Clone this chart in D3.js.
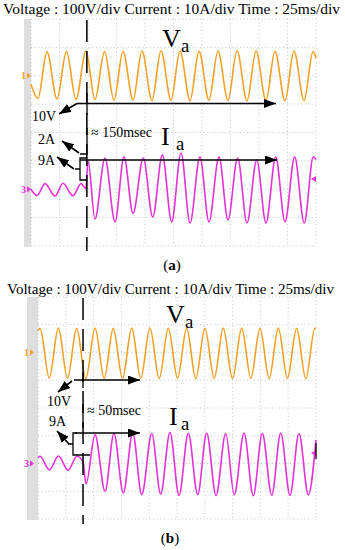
<!DOCTYPE html>
<html>
<head>
<meta charset="utf-8">
<script src="https://cdn.jsdelivr.net/npm/d3@7"></script>
<style>
  body { margin: 0; background: #fff; }
</style>
</head>
<body>
<script>
// scope settings
const timeDiv = 25;     // ms per division
const voltDiv = 100;    // V per division
const currDiv = 10;     // A per division
const eventTime = { a: 49, b: 40.5 };   // ms, fault instant (dashed line)

// phase voltage, panel (a): [ms, V]  (extrema)
const voltageA = [
  [0, -30], [6.1, -80], [14.0, 84], [22.8, -82], [31.1, 86], [39.5, -83], [48.2, 87],
  [56.1, -84], [64.5, 85], [72.8, -86], [80.7, 86], [89.5, -85], [97.4, 87], [106.1, -87],
  [114.0, 88], [122.8, -86], [130.7, 87], [139.5, -88], [147.4, 86], [156.1, -86], [164.0, 87],
  [172.8, -87], [180.7, 88], [189.5, -88], [197.4, 87], [206.1, -87], [214.0, 86], [222.8, -88],
  [230.7, 87], [239.5, -87], [247.4, 85], [250, 62]
];
// phase current, panel (a): [ms, A]
const currentA = [
  [0, 0], [5.3, -2.2], [12.3, 2.0], [21.1, -2.4], [28.1, 2.1], [36.8, -2.3], [43.9, 2.0],
  [48.2, 0.2], [50.0, 10.3], [56.1, -10.5], [64.9, 11.0], [73.7, -11.5], [81.6, 11.4],
  [89.5, -8.5], [98.5, 11.0], [106.8, -9.8], [115.2, 12.1], [123.4, -11.5], [131.6, 12.8],
  [139.5, -11.9], [148.2, 11.4], [156.1, -11.5], [164.9, 11.4], [172.8, -10.8], [181.3, 11.0],
  [189.5, -11.9], [198.0, 10.3], [206.1, -11.9], [214.7, 11.4], [222.8, -11.5], [231.3, 11.4],
  [239.7, -11.9], [247.6, 11.4], [250, 10.5]
];
// phase voltage, panel (b)
const voltageB = [
  [0, 78], [1.8, 87], [10.1, -92], [18.3, 88], [26.5, -93], [34.8, 87], [43.0, -94],
  [51.3, 88], [59.5, -93], [67.7, 87], [76.0, -94], [84.3, 88], [92.4, -93], [100.7, 88],
  [109.0, -94], [117.2, 87], [125.5, -93], [133.7, 88], [141.9, -94], [150.1, 87], [158.5, -93],
  [166.6, 88], [174.9, -94], [183.2, 88], [191.4, -93], [199.6, 87], [207.9, -94], [216.1, 88],
  [224.3, -93], [232.6, 87], [240.8, -94], [249.1, 88], [250, 86]
];
// phase current, panel (b)
const currentB = [
  [0, 2.0], [1.8, 2.6], [10.3, -2.3], [18.4, 2.7], [27.0, -2.4], [35.1, 2.6], [40.5, 0.5],
  [43.2, -7.4], [51.3, 10.3], [60.3, -10.0], [68.3, 10.8], [76.7, -10.6], [85.2, 11.0],
  [93.3, -11.2], [102.3, 10.8], [110.3, -11.0], [118.7, 11.2], [126.8, -11.5], [135.2, 10.9],
  [143.6, -11.2], [151.7, 11.0], [160.1, -11.6], [168.8, 10.8], [176.5, -11.3], [185.3, 11.0],
  [193.6, -11.6], [201.7, 10.9], [210.2, -11.4], [218.3, 11.0], [226.6, -11.5], [234.7, 10.8],
  [243.1, -11.3], [250, 8.5]
];

const headerText = 'Voltage : 100V/div  Current : 10A/div  Time : 25ms/div';

const orange = '#f3a126', magenta = '#e332d4';
const serif = '"Liberation Serif", "Times New Roman", serif';

const svg = d3.select('body').append('svg')
    .attr('width', 345)
    .attr('height', 550)
    .attr('font-family', serif);

// arrow head
svg.append('defs').append('marker')
    .attr('id', 'head')
    .attr('markerUnits', 'userSpaceOnUse')
    .attr('markerWidth', 13).attr('markerHeight', 9)
    .attr('refX', 12).attr('refY', 4.5)
    .attr('orient', 'auto')
  .append('path')
    .attr('d', 'M0,0 L12,4.5 L0,9 Z')
    .attr('fill', '#000');

function drawPanel(p){
    const g = svg.append('g');
    const x = d3.scaleLinear().domain([0, 10 * timeDiv]).range([p.x0, p.x1]);
    const yDiv = d3.scaleLinear().domain([-4, 4]).range([p.y1, p.y0]);
    // ch1 ground two divisions up, ch3 ground two divisions down
    const yV = d3.scaleLinear().domain([-6 * voltDiv, 2 * voltDiv]).range([p.y1, p.y0]);
    const yI = d3.scaleLinear().domain([-2 * currDiv, 6 * currDiv]).range([p.y1, p.y0]);

    // grey strip left of screen
    g.append('rect')
        .attr('x', p.stripX).attr('y', p.y0)
        .attr('width', p.x0 - p.stripX).attr('height', p.y1 - p.y0 + 1)
        .attr('fill', '#dedede');

    // dotted graticule
    const grid = g.append('g')
        .attr('stroke', '#c4c4c4')
        .attr('stroke-dasharray', '1,2.6');
    grid.selectAll('line.v')
        .data(d3.range(0, 10 * timeDiv + 1, timeDiv))
        .join('line').classed('v', true)
        .attr('x1', d => x(d)).attr('x2', d => x(d))
        .attr('y1', p.y0).attr('y2', p.y1);
    grid.selectAll('line.h')
        .data(d3.range(-4, 5))
        .join('line').classed('h', true)
        .attr('x1', p.x0).attr('x2', p.x1)
        .attr('y1', d => yDiv(d)).attr('y2', d => yDiv(d));

    // traces
    const lineV = d3.line().x(d => x(d[0])).y(d => yV(d[1])).curve(d3.curveMonotoneX);
    const lineI = d3.line().x(d => x(d[0])).y(d => yI(d[1])).curve(d3.curveMonotoneX);
    g.append('path').attr('d', lineV(p.voltage))
        .attr('fill', 'none').attr('stroke', orange).attr('stroke-width', 1.6);
    g.append('path').attr('d', lineI(p.current))
        .attr('fill', 'none').attr('stroke', magenta).attr('stroke-width', 1.6);

    // channel markers
    const m1 = g.append('g').attr('transform', `translate(${p.stripX - 3},${yV(0)})`);
    m1.append('text').text('1').attr('x', 0).attr('y', 3.5)
        .attr('font-size', 10).attr('font-weight', 'bold').attr('fill', orange);
    m1.append('path').attr('d', 'M6,-3 L10,0 L6,3 Z').attr('fill', orange);
    const m3 = g.append('g').attr('transform', `translate(${p.stripX - 3},${yI(0)})`);
    m3.append('text').text('3').attr('x', 0).attr('y', 3.5)
        .attr('font-size', 10).attr('font-weight', 'bold').attr('fill', magenta);
    m3.append('path').attr('d', 'M6,-3 L10,0 L6,3 Z').attr('fill', magenta);
    g.append('path')
        .attr('d', `M${p.x1},${p.rightMark - 3} L${p.x1 - 5},${p.rightMark} L${p.x1},${p.rightMark + 3} Z`)
        .attr('fill', magenta);

    // fault instant
    g.append('line')
        .attr('x1', x(p.event)).attr('x2', x(p.event))
        .attr('y1', p.y0 + 1).attr('y2', p.y1 + 5)
        .attr('stroke', '#000').attr('stroke-width', 1.5)
        .attr('stroke-dasharray', '22,9');

    return {g, x, yV, yI};
}

function label(g, txt, sub, xPos, yPos, size, gap){
    g.append('text').text(txt).attr('x', xPos).attr('y', yPos).attr('font-size', size);
    g.append('text').text(sub).attr('x', xPos + gap).attr('y', yPos + 5)
        .attr('font-size', size * 0.72);
}

function arrow(g, x1, y1, x2, y2){
    g.append('line')
        .attr('x1', x1).attr('y1', y1).attr('x2', x2).attr('y2', y2)
        .attr('stroke', '#000').attr('stroke-width', 1.6)
        .attr('marker-end', 'url(#head)');
}

function seg(g, d){
    g.append('path').attr('d', d)
        .attr('fill', 'none').attr('stroke', '#000').attr('stroke-width', 1.3);
}

function small(g, txt, xPos, yPos, size = 14){
    g.append('text').text(txt).attr('x', xPos).attr('y', yPos).attr('font-size', size);
}

// ---- panel (a)
svg.append('text').text(headerText)
    .attr('x', 3).attr('y', 14).attr('font-size', 15)
    .attr('textLength', 337).attr('lengthAdjust', 'spacingAndGlyphs');

const A = drawPanel({
    x0: 31, x1: 316, y0: 19, y1: 246, stripX: 24, rightMark: 179,
    voltage: voltageA, current: currentA, event: eventTime.a
});
label(A.g, 'V', 'a', 162, 47, 26, 19);
label(A.g, 'I', 'a', 161, 145, 26, 15);
seg(A.g, 'M87,93 L87,115');
arrow(A.g, 77, 103.5, 276, 103.5);
arrow(A.g, 77, 103.5, 59, 114);
small(A.g, '10V', 32, 121);
small(A.g, '≈ 150msec', 91, 137);
seg(A.g, 'M87,128 L87,154 L80,154');
seg(A.g, 'M87,158 L80,158 L80,180 L87,180 M80,169 L75,169');
arrow(A.g, 80, 160, 277, 160);
arrow(A.g, 79, 153, 62, 141);
arrow(A.g, 74, 169, 57, 157);
small(A.g, '2A', 38, 144);
small(A.g, '9A', 38, 165);

const capA = svg.append('text').attr('x', 172).attr('y', 270)
    .attr('text-anchor', 'middle').attr('font-size', 15);
capA.append('tspan').text('(');
capA.append('tspan').text('a').attr('font-weight', 'bold');
capA.append('tspan').text(')');

// ---- panel (b)
svg.append('text').text(headerText)
    .attr('x', 7).attr('y', 294).attr('font-size', 15)
    .attr('textLength', 327).attr('lengthAdjust', 'spacingAndGlyphs');

const B = drawPanel({
    x0: 38, x1: 316, y0: 297, y1: 519, stripX: 27, rightMark: 453,
    voltage: voltageB, current: currentB, event: eventTime.b
});
label(B.g, 'V', 'a', 166, 323, 26, 19);
label(B.g, 'I', 'a', 169, 425, 26, 12);
seg(B.g, 'M83,372 L83,388');
seg(B.g, 'M316,443 L316,459');
arrow(B.g, 74, 380, 140, 380);
arrow(B.g, 72, 381, 58, 392);
small(B.g, '10V', 47, 406);
small(B.g, '9A', 49, 426);
small(B.g, '≈ 50msec', 87, 415);
seg(B.g, 'M83,404 L83,428');
seg(B.g, 'M77,433 L73,433 L73,455 L90,455 M73,444 L68,444');
arrow(B.g, 75, 433, 140, 433);
arrow(B.g, 69, 444, 57, 431);

const capB = svg.append('text').attr('x', 170).attr('y', 543)
    .attr('text-anchor', 'middle').attr('font-size', 15);
capB.append('tspan').text('(');
capB.append('tspan').text('b').attr('font-weight', 'bold');
capB.append('tspan').text(')');
</script>
</body>
</html>
